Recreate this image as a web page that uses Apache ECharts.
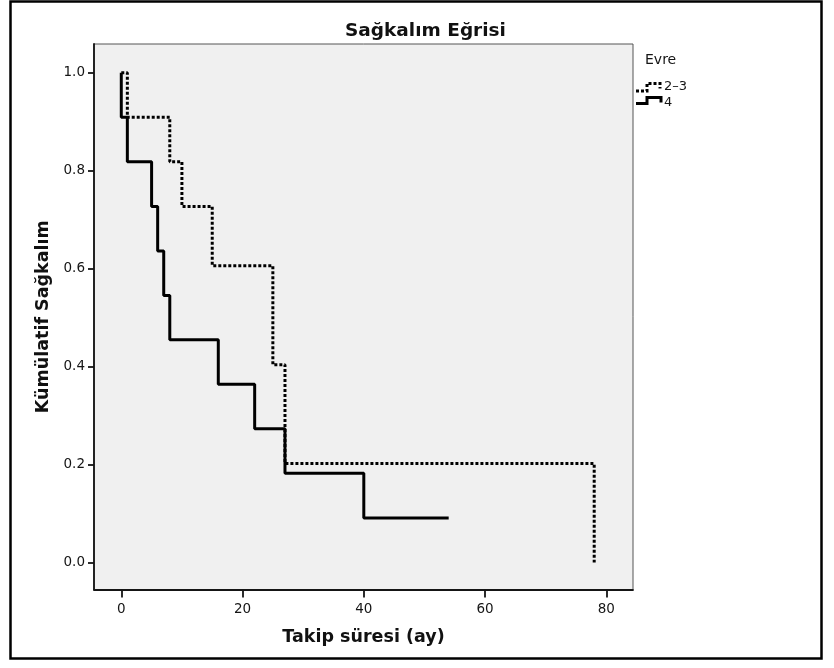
<!DOCTYPE html>
<html>
<head>
<meta charset="utf-8">
<title>Sağkalım Eğrisi</title>
<script src="https://cdn.jsdelivr.net/npm/echarts@6/dist/echarts.min.js"></script>
<style>
  html, body { margin: 0; padding: 0; background: #ffffff; }
  #chart { width: 834px; height: 668px; }
</style>
</head>
<body>
<div id="chart"></div>
<script>
// Kaplan–Meier survival steps (follow-up in months, cumulative survival)
const stage23Time = [0, 1, 8, 10, 15, 25, 27, 78];
const stage23Surv = [1.0, 0.909, 0.818, 0.727, 0.606, 0.404, 0.202, 0.0];

const stage4Time = [0, 0, 1, 5, 6, 7, 8, 16, 22, 27, 40, 54];
const stage4Surv = [1.0, 0.909, 0.818, 0.727, 0.636, 0.545, 0.455, 0.364, 0.273, 0.182, 0.091, 0.091];

const xTicks = [0, 20, 40, 60, 80];
const yTicks = [0.0, 0.2, 0.4, 0.6, 0.8, 1.0];

const seriesNames = ['2–3', '4'];

const pair = (t, s) => t.map((v, i) => [v, s[i]]);

const FONT = 'DejaVu Sans';
const INK = '#151515';

const chart = echarts.init(document.getElementById('chart'), null, { renderer: 'canvas' });

chart.setOption({
  animation: false,
  backgroundColor: '#ffffff',
  title: {
    text: 'Sağkalım Eğrisi',
    left: 340,
    top: 17,
    textStyle: { fontFamily: FONT, fontSize: 18.5, fontWeight: 'bold', color: '#111' }
  },
  grid: {
    left: 94, right: 201, top: 44, bottom: 78.5,
    show: true,
    backgroundColor: '#f0f0f0',
    borderColor: '#555555',
    borderWidth: 1
  },
  xAxis: {
    type: 'value',
    min: -4.5,
    max: 84.4,
    name: 'Takip süresi (ay)',
    nameLocation: 'middle',
    nameGap: 39,
    nameTextStyle: { fontFamily: FONT, fontSize: 17.5, fontWeight: 'bold', color: '#111' },
    splitLine: { show: false },
    axisLine: { show: true, onZero: false, lineStyle: { color: INK, width: 1.8 } },
    axisTick: { show: true, length: 8, customValues: xTicks, lineStyle: { color: INK, width: 1.8 } },
    axisLabel: {
      customValues: xTicks,
      margin: 13,
      fontFamily: FONT, fontSize: 13.5, color: INK
    }
  },
  yAxis: {
    type: 'value',
    min: -0.0551,
    max: 1.0586,
    name: 'Kümülatif Sağkalım',
    nameLocation: 'middle',
    nameGap: 42,
    nameRotate: 90,
    nameTextStyle: { fontFamily: FONT, fontSize: 17.5, fontWeight: 'bold', color: '#111' },
    splitLine: { show: false },
    axisLine: { show: true, onZero: false, lineStyle: { color: INK, width: 1.8 } },
    axisTick: { show: true, length: 6, customValues: yTicks, lineStyle: { color: INK, width: 1.8 } },
    axisLabel: {
      customValues: yTicks,
      margin: 9,
      fontFamily: FONT, fontSize: 13.5, color: INK,
      formatter: v => v.toFixed(1)
    }
  },
  series: [
    {
      name: seriesNames[0],
      type: 'line',
      step: 'end',
      showSymbol: false,
      data: pair(stage23Time, stage23Surv),
      lineStyle: { color: '#000', width: 3, type: [3, 2] },
      z: 3
    },
    {
      name: seriesNames[1],
      type: 'line',
      step: 'end',
      showSymbol: false,
      data: pair(stage4Time, stage4Surv),
      lineStyle: { color: '#000', width: 3, type: 'solid' },
      z: 2
    }
  ],
  graphic: [
    // outer frame
    {
      type: 'rect',
      shape: { x: 10.5, y: 1.5, width: 811, height: 657 },
      style: { fill: 'none', stroke: '#000', lineWidth: 2.5 },
      silent: true
    },
    // legend
    {
      type: 'text', left: 645, top: 53,
      style: { text: 'Evre', font: '14px "DejaVu Sans"', fill: INK }
    },
    {
      type: 'polyline',
      shape: { points: [[636, 91], [647, 91], [647, 83.5], [660, 83.5], [660, 88.5]] },
      style: { stroke: '#000', lineWidth: 3, lineDash: [3, 2], fill: 'none' }
    },
    {
      type: 'text', left: 664, top: 80,
      style: { text: seriesNames[0], font: '13px "DejaVu Sans"', fill: INK }
    },
    {
      type: 'polyline',
      shape: { points: [[636, 103.5], [647, 103.5], [647, 97.5], [661, 97.5], [661, 102.5]] },
      style: { stroke: '#000', lineWidth: 3, fill: 'none' }
    },
    {
      type: 'text', left: 664, top: 96,
      style: { text: seriesNames[1], font: '13px "DejaVu Sans"', fill: INK }
    }
  ]
});
</script>
</body>
</html>
